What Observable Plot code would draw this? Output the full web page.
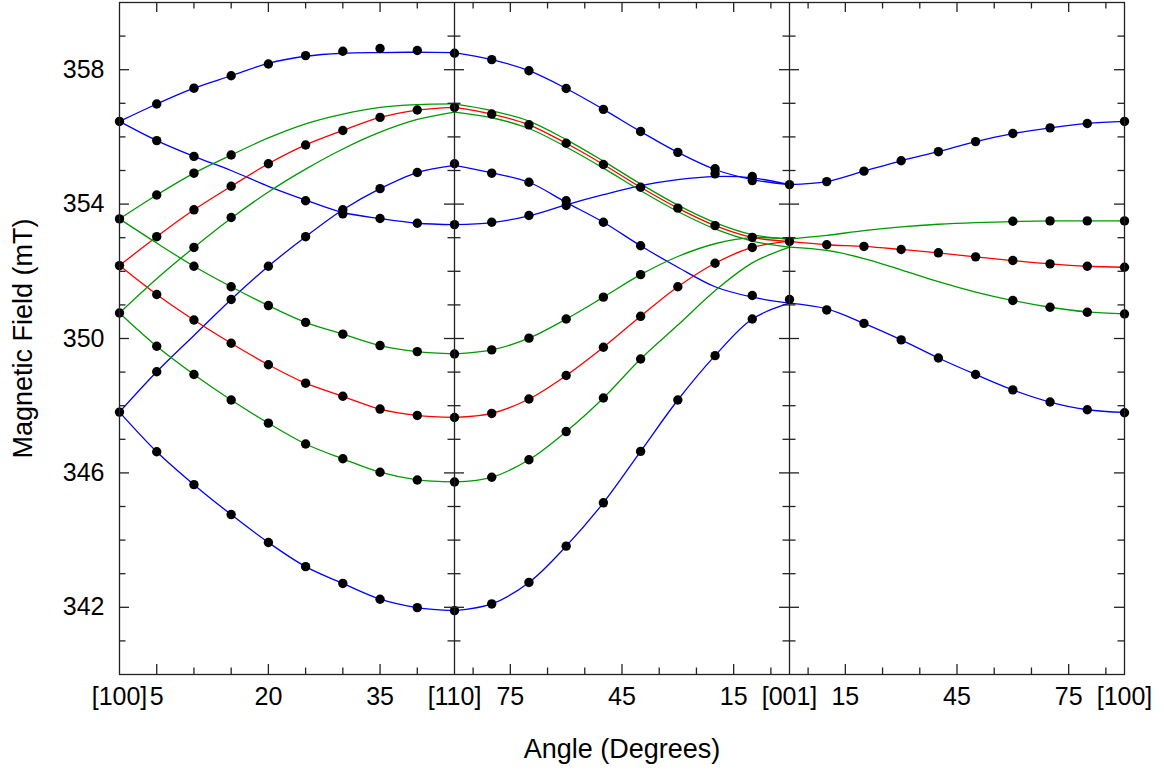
<!DOCTYPE html>
<html>
<head>
<meta charset="utf-8">
<script src="https://cdn.jsdelivr.net/npm/d3@7"></script>
<script src="https://cdn.jsdelivr.net/npm/@observablehq/plot@0.6"></script>
<style>
html, body { margin: 0; padding: 0; background: #fff; }
#chart { width: 1164px; height: 774px; }
</style>
</head>
<body>
<div id="chart"></div>
<script>
// ---------------- DATA ----------------
// Crystal directions at the segment boundaries (x axis)
const directionLabels = ["[100]", "[110]", "[001]", "[100]"];

// Segment 1: [100] -> [110], angle from [100]
const seg1Angles = [0, 5, 10, 15, 20, 25, 30, 35, 40, 45];
// Segment 2: [110] -> [001], angle measured from [001]
const seg2Angles = [90, 80, 70, 60, 50, 40, 30, 20, 10, 0];
// Segment 3: [001] -> [100], angle from [001]
const seg3Angles = [0, 10, 20, 30, 40, 50, 60, 70, 80, 90];

// Axis ticks (angles in each segment)
const seg1TickAngles = [5, 10, 15, 20, 25, 30, 35, 40];
const seg1LabelAngles = [5, 20, 35];
const seg2TickAngles = [85, 75, 65, 55, 45, 35, 25, 15, 5];
const seg2LabelAngles = [75, 45, 15];
const seg3TickAngles = [5, 15, 25, 35, 45, 55, 65, 75, 85];
const seg3LabelAngles = [15, 45, 75];

const yTickValues = [341, 342, 343, 344, 345, 346, 347, 348, 349, 350, 351, 352, 353, 354, 355, 356, 357, 358, 359];
const yLabelValues = [342, 346, 350, 354, 358];

// ---- Segment 1 fitted curves (mT) ----
const fit1BlueA  = [356.46, 356.98, 357.45, 357.82, 358.19, 358.40, 358.49, 358.51, 358.52, 358.51];
const fit1BlueB  = [356.46, 355.89, 355.42, 355.00, 354.53, 354.12, 353.75, 353.57, 353.43, 353.39];
const fit1GreenA = [353.56, 354.27, 354.92, 355.46, 355.97, 356.39, 356.68, 356.88, 356.96, 356.98];
const fit1RedA   = [352.17, 353.03, 353.83, 354.53, 355.20, 355.76, 356.19, 356.58, 356.80, 356.88];
const fit1GreenC = [350.76, 351.78, 352.71, 353.58, 354.36, 355.04, 355.64, 356.14, 356.52, 356.74];
const fit1GreenB = [353.56, 352.84, 352.15, 351.54, 350.98, 350.48, 350.13, 349.79, 349.61, 349.54];
const fit1RedB   = [352.17, 351.31, 350.55, 349.86, 349.22, 348.67, 348.28, 347.90, 347.71, 347.65];
const fit1GreenD = [350.76, 349.77, 348.93, 348.17, 347.48, 346.86, 346.42, 346.02, 345.79, 345.73];
const fit1BlueC  = [347.81, 349.01, 350.09, 351.16, 352.15, 353.03, 353.83, 354.46, 354.94, 355.15];
const fit1BlueD  = [347.81, 346.63, 345.65, 344.76, 343.93, 343.21, 342.71, 342.24, 341.99, 341.90];

// ---- Segment 1 measured points ----
const obs1BlueA  = [356.46, 356.98, 357.45, 357.82, 358.17, 358.42, 358.55, 358.63, 358.57, 358.49];
const obs1BlueB  = [null, 355.89, 355.42, null, null, 354.10, 353.71, 353.57, 353.43, 353.39];
const obs1GreenA = [353.56, 354.27, 354.92, 355.46, null, null, null, null, null, null];
const obs1RedA   = [352.17, 353.03, 353.83, 354.53, 355.20, 355.76, 356.19, 356.58, 356.80, 356.88];
const obs1GreenC = [350.76, null, 352.71, 353.60, null, null, null, null, null, null];
const obs1GreenB = [null, null, 352.15, 351.54, 350.98, 350.48, 350.13, 349.79, 349.61, 349.54];
const obs1RedB   = [null, 351.31, 350.55, 349.86, 349.22, 348.67, 348.28, 347.90, 347.71, 347.65];
const obs1GreenD = [null, 349.77, 348.93, 348.17, 347.48, 346.86, 346.42, 346.02, 345.79, 345.73];
const obs1BlueC  = [347.81, 349.01, null, 351.16, 352.15, 353.03, 353.83, 354.46, 354.94, 355.20];
const obs1BlueD  = [null, 346.63, 345.65, 344.76, 343.93, 343.21, 342.71, 342.24, 341.99, 341.90];

// ---- Segment 2 fitted curves ----
const fit2BlueA  = [358.51, 358.30, 357.97, 357.44, 356.82, 356.16, 355.54, 355.03, 354.73, 354.58];
const fit2BlueB  = [353.39, 353.45, 353.65, 353.98, 354.28, 354.55, 354.73, 354.82, 354.78, 354.58];
const fit2GreenA = [356.98, 356.78, 356.47, 355.92, 355.28, 354.60, 353.97, 353.45, 353.09, 352.96];
const fit2RedA   = [356.88, 356.68, 356.36, 355.81, 355.18, 354.50, 353.88, 353.36, 353.01, 352.89];
const fit2GreenC = [356.74, 356.57, 356.25, 355.70, 355.07, 354.40, 353.78, 353.26, 352.90, 352.72];
const fit2BlueC  = [355.15, 354.93, 354.65, 354.05, 353.46, 352.76, 352.12, 351.54, 351.23, 351.05];
const fit2GreenB = [349.54, 349.66, 350.01, 350.58, 351.23, 351.90, 352.44, 352.82, 353.00, 352.96];
const fit2RedB   = [347.65, 347.77, 348.20, 348.90, 349.74, 350.66, 351.54, 352.24, 352.71, 352.89];
const fit2GreenD = [345.73, 345.87, 346.39, 347.23, 348.23, 349.39, 350.40, 351.42, 352.25, 352.72];
const fit2BlueD  = [341.90, 342.10, 342.74, 343.82, 345.11, 346.64, 348.17, 349.49, 350.58, 351.05];

// ---- Segment 2 measured points ----
const obs2BlueA  = [null, 358.30, 357.97, 357.44, 356.82, 356.16, 355.54, 355.05, 354.82, null];
const obs2BlueB  = [null, 353.46, 353.66, 353.96, null, null, null, 354.90, 354.70, null];
const obs2RedA   = [null, 356.68, 356.36, 355.81, 355.18, 354.50, 353.88, 353.36, 353.01, null];
const obs2BlueC  = [null, 354.92, 354.65, 354.10, 353.46, 352.76, null, null, 351.28, null];
const obs2GreenB = [null, 349.66, 350.01, 350.58, 351.23, 351.90, null, null, null, null];
const obs2RedB   = [null, 347.77, 348.20, 348.90, 349.74, 350.66, 351.54, 352.24, 352.71, null];
const obs2GreenD = [null, 345.87, 346.39, 347.23, 348.23, 349.39, null, null, null, null];
const obs2BlueD  = [null, 342.10, 342.74, 343.82, 345.11, 346.64, 348.17, 349.49, 350.58, null];

// ---- Segment 3 fitted curves ----
const fit3BlueA  = [354.58, 354.67, 354.98, 355.29, 355.56, 355.86, 356.10, 356.27, 356.40, 356.46];
const fit3GreenA = [352.96, 353.07, 353.21, 353.32, 353.40, 353.45, 353.48, 353.50, 353.50, 353.50];
const fit3Red    = [352.89, 352.79, 352.74, 352.65, 352.55, 352.43, 352.32, 352.22, 352.15, 352.12];
const fit3GreenB = [352.72, 352.62, 352.38, 352.04, 351.69, 351.38, 351.13, 350.93, 350.79, 350.73];
const fit3BlueB  = [351.05, 350.88, 350.45, 349.96, 349.42, 348.93, 348.47, 348.11, 347.88, 347.80];

// ---- Segment 3 measured points ----
const obs3BlueA  = [354.58, 354.67, 354.98, 355.29, 355.56, 355.86, 356.10, 356.27, 356.40, 356.46];
const obs3GreenA = [null, null, null, null, null, null, 353.49, 353.50, 353.50, 353.50];
const obs3Red    = [352.89, 352.79, 352.74, 352.65, 352.55, 352.43, 352.32, 352.22, 352.15, 352.12];
const obs3GreenB = [null, null, null, null, null, null, 351.13, 350.93, 350.78, 350.73];
const obs3BlueB  = [351.16, 350.85, 350.45, 349.96, 349.42, 348.93, 348.47, 348.11, 347.88, 347.79];

// ---------------- TABLES ----------------
const palette = {blue: "#0000ff", red: "#ff0000", green: "#009a00"};
const segAngles = {1: seg1Angles, 2: seg2Angles, 3: seg3Angles};
// position on the unfolded x axis: each segment spans 90 units
const toPos = (seg, a) => seg === 1 ? 2 * a : seg === 2 ? 180 - a : 180 + a;

const fitSeries = [
  [1, "blue", fit1BlueA], [1, "blue", fit1BlueB], [1, "green", fit1GreenA], [1, "red", fit1RedA],
  [1, "green", fit1GreenC], [1, "green", fit1GreenB], [1, "red", fit1RedB], [1, "green", fit1GreenD],
  [1, "blue", fit1BlueC], [1, "blue", fit1BlueD],
  [2, "blue", fit2BlueA], [2, "blue", fit2BlueB], [2, "green", fit2GreenA], [2, "red", fit2RedA],
  [2, "green", fit2GreenC], [2, "blue", fit2BlueC], [2, "green", fit2GreenB], [2, "red", fit2RedB],
  [2, "green", fit2GreenD], [2, "blue", fit2BlueD],
  [3, "blue", fit3BlueA], [3, "green", fit3GreenA], [3, "red", fit3Red], [3, "green", fit3GreenB],
  [3, "blue", fit3BlueB]
];
const obsSeries = [
  [1, obs1BlueA], [1, obs1BlueB], [1, obs1GreenA], [1, obs1RedA], [1, obs1GreenC], [1, obs1GreenB],
  [1, obs1RedB], [1, obs1GreenD], [1, obs1BlueC], [1, obs1BlueD],
  [2, obs2BlueA], [2, obs2BlueB], [2, obs2RedA], [2, obs2BlueC], [2, obs2GreenB], [2, obs2RedB],
  [2, obs2GreenD], [2, obs2BlueD],
  [3, obs3BlueA], [3, obs3GreenA], [3, obs3Red], [3, obs3GreenB], [3, obs3BlueB]
];

const fitRows = fitSeries.flatMap(([seg, color, vals], k) =>
  vals.map((v, i) => ({id: k, color, pos: toPos(seg, segAngles[seg][i]), v})));
const dotRows = obsSeries.flatMap(([seg, vals]) =>
  vals.map((v, i) => ({pos: toPos(seg, segAngles[seg][i]), v})).filter(d => d.v != null));

const xTickRows = [
  ...seg1TickAngles.map(a => ({pos: toPos(1, a), major: seg1LabelAngles.includes(a)})),
  ...seg2TickAngles.map(a => ({pos: toPos(2, a), major: seg2LabelAngles.includes(a)})),
  ...seg3TickAngles.map(a => ({pos: toPos(3, a), major: seg3LabelAngles.includes(a)}))
];
const xLabelRows = [
  ...seg1LabelAngles.map(a => ({pos: toPos(1, a), label: String(a)})),
  ...seg2LabelAngles.map(a => ({pos: toPos(2, a), label: String(a)})),
  ...seg3LabelAngles.map(a => ({pos: toPos(3, a), label: String(a)})),
  ...directionLabels.map((label, i) => ({pos: i * 90, label}))
];
const edgeRows = directionLabels.map((label, i) => ({pos: i * 90}));
const dividerRows = edgeRows.slice(1, 3);

// y-tick rows: ticks pointing right (left edge + right side of dividers),
// ticks pointing left (right edge + left side of dividers)
const rightPointing = edgeRows.slice(0, 3).flatMap(e => yTickValues.map(v => ({pos: e.pos, v, major: yLabelValues.includes(v)})));
const leftPointing = edgeRows.slice(1, 4).flatMap(e => yTickValues.map(v => ({pos: e.pos, v, major: yLabelValues.includes(v)})));

// ---------------- PLOT ----------------
const axisColor = "#222";
const aw = 1.3;
const majorLen = 10, minorLen = 6.5;
const font = "'Liberation Sans', Arial, Helvetica, sans-serif";

const lineMarks = ["blue", "red", "green"].map(c =>
  Plot.line(fitRows.filter(d => d.color === c), {
    x: "pos", y: "v", z: "id", stroke: palette[c], strokeWidth: 1.3, curve: "catmull-rom"
  }));

const chart = Plot.plot({
  width: 1164,
  height: 774,
  marginTop: 2,
  marginRight: 40,
  marginBottom: 100,
  marginLeft: 119,
  x: {domain: [0, 270], axis: null},
  y: {domain: [340, 360], axis: null},
  style: {fontFamily: font, background: "white", color: "black", overflow: "visible"},
  marks: [
    ...lineMarks,
    Plot.dot(dotRows, {x: "pos", y: "v", r: 4.7, fill: "black", stroke: "none"}),
    Plot.ruleX(dividerRows, {x: "pos", stroke: axisColor, strokeWidth: aw}),
    Plot.frame({stroke: axisColor, strokeWidth: aw}),
    // bottom ticks (inward)
    Plot.ruleX(xTickRows.filter(d => d.major), {x: "pos", y1: () => 340, y2: () => 340, insetTop: -majorLen, stroke: axisColor, strokeWidth: aw}),
    Plot.ruleX(xTickRows.filter(d => !d.major), {x: "pos", y1: () => 340, y2: () => 340, insetTop: -minorLen, stroke: axisColor, strokeWidth: aw}),
    // top ticks (inward)
    Plot.ruleX(xTickRows.filter(d => d.major), {x: "pos", y1: () => 360, y2: () => 360, insetBottom: -majorLen, stroke: axisColor, strokeWidth: aw}),
    Plot.ruleX(xTickRows.filter(d => !d.major), {x: "pos", y1: () => 360, y2: () => 360, insetBottom: -minorLen, stroke: axisColor, strokeWidth: aw}),
    // y ticks
    Plot.ruleY(rightPointing.filter(d => d.major), {y: "v", x1: "pos", x2: "pos", insetRight: -majorLen, stroke: axisColor, strokeWidth: aw}),
    Plot.ruleY(rightPointing.filter(d => !d.major), {y: "v", x1: "pos", x2: "pos", insetRight: -minorLen, stroke: axisColor, strokeWidth: aw}),
    Plot.ruleY(leftPointing.filter(d => d.major), {y: "v", x1: "pos", x2: "pos", insetLeft: -majorLen, stroke: axisColor, strokeWidth: aw}),
    Plot.ruleY(leftPointing.filter(d => !d.major), {y: "v", x1: "pos", x2: "pos", insetLeft: -minorLen, stroke: axisColor, strokeWidth: aw}),
    // tick labels
    Plot.text(xLabelRows, {x: "pos", text: "label", frameAnchor: "bottom", dy: 30, fontSize: 25, fill: "black"}),
    Plot.text(yLabelValues, {y: d => d, text: d => String(d), frameAnchor: "left", dx: -15, textAnchor: "end", fontSize: 25, fill: "black"}),
    // axis titles
    Plot.text(["Angle (Degrees)"], {text: d => d, frameAnchor: "bottom", textAnchor: "middle", dy: 83, fontSize: 27, fill: "black"}),
    Plot.text(["Magnetic Field (mT)"], {text: d => d, frameAnchor: "left", textAnchor: "middle", dx: -96, rotate: -90, fontSize: 27, fill: "black"})
  ]
});
document.getElementById("chart").appendChild(chart);
</script>
</body>
</html>
